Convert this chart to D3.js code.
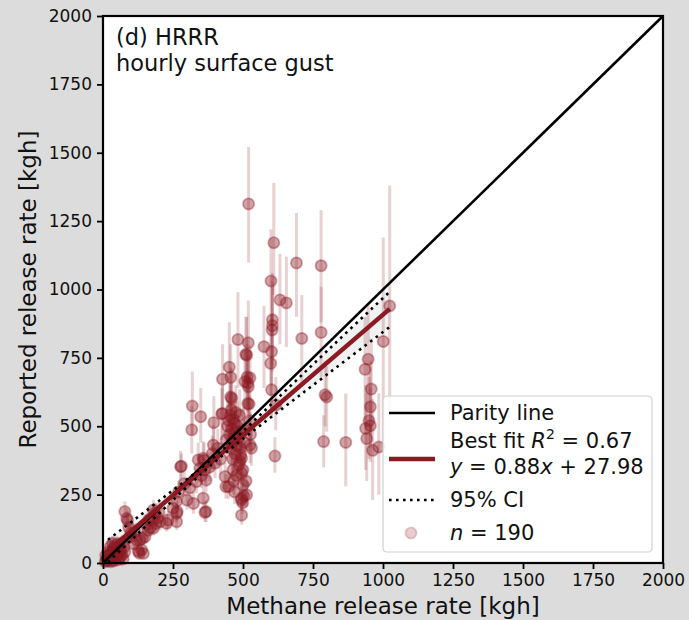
<!DOCTYPE html>
<html>
<head>
<meta charset="utf-8">
<script src="https://cdn.jsdelivr.net/npm/d3@7"></script>
<style>
  body { margin: 0; background: #dcdcdc; }
  svg { display: block; font-family: "DejaVu Sans", sans-serif; }
</style>
</head>
<body>
<div id="chart"></div>
<script>
// points: methane rate, reported rate, error bar ends
const methane = [
  8, 12, 15, 18, 20, 22, 25, 28, 30, 32, 35, 36, 38, 40, 42, 44, 46, 48, 50, 52,
  54, 56, 58, 60, 62, 65, 68, 70, 72, 75, 78, 18, 26, 10, 34,
  78, 85, 88, 92, 96, 100, 114, 120, 126, 130, 132, 138, 144, 150, 155, 160, 165, 170, 178,
  180, 180, 186, 190, 195, 200, 204, 110, 140,
  227, 233, 250, 263, 263, 265, 262, 277, 270, 280, 290, 300, 310, 319, 317, 323, 334, 340,
  346, 349, 352, 358, 358, 361, 364, 364, 368, 368, 380, 390, 394, 396, 400, 410, 420, 424,
  427, 427, 436, 439,
  440, 445, 448, 450, 451, 452, 454, 455, 456, 456, 458, 460, 460, 462, 463, 464, 465, 466,
  468, 470, 470, 472, 474, 475, 476, 478, 480, 482, 484, 486, 488, 489, 490, 492, 494, 495,
  495, 495, 495, 497, 499, 500, 501, 501, 503, 505, 507, 510, 511, 513, 513, 515, 517, 517,
  519, 519, 520, 522, 524, 525, 525, 527, 530,
  575, 599, 602, 602, 604, 605, 605, 600, 610, 614, 617, 632, 655, 691, 710,
  779, 779, 788, 793, 799, 867, 936, 938, 942, 947, 950, 955, 955, 958, 963, 985, 1001, 1024
];
const reported = [
  5, 10, 18, 8, 25, 14, 30, 5, 20, 40, 12, 52, 28, 8, 62, 35, 18, 45, 70, 26,
  55, 12, 38, 65, 22, 48, 30, 75, 15, 58, 40, 40, 60, 28, 72,
  188, 163, 155, 130, 96, 110, 114, 84, 43, 36, 84, 48, 35, 95, 140, 120, 160, 130, 157,
  194, 127, 183, 145, 165, 185, 151, 70, 90,
  145, 157, 200, 182, 151, 188, 225, 352, 260, 354, 290, 230, 275, 574, 487, 218, 297, 377,
  346, 535, 320, 237, 383, 376, 340, 185, 188, 303, 350, 400, 431, 513, 365, 420, 380, 545,
  672, 547, 316, 279,
  450, 500, 279, 520, 716, 470, 540, 420, 679, 607, 560, 602, 490, 440, 380, 340, 525, 300,
  460, 510, 260, 400, 550, 480, 320, 430, 500, 817, 460, 360, 540, 372, 420, 395, 230, 383,
  328, 237, 175, 480, 220, 340, 486, 285, 245, 440, 663, 763, 300, 249, 760, 680, 658, 583,
  805, 645, 1313, 581, 520, 431, 677, 470, 420,
  791, 730, 773, 633, 852, 889, 868, 1031, 1171, 391, 578, 962, 951, 1097, 821,
  1087, 843, 444, 615, 607, 441, 708, 492, 455, 745, 520, 571, 502, 636, 412, 424, 810, 940
];
const errLow = [
  0, 2, 5, 0, 10, 3, 12, 0, 6, 20, 2, 30, 10, 0, 38, 15, 4, 22, 45, 8,
  30, 2, 16, 40, 6, 24, 10, 48, 3, 32, 18, 20, 36, 10, 45,
  150, 130, 125, 100, 70, 80, 85, 60, 25, 20, 62, 28, 18, 70, 110, 92, 130, 100, 125,
  160, 100, 150, 115, 132, 150, 120, 48, 65,
  115, 125, 165, 148, 120, 155, 185, 300, 220, 310, 245, 195, 235, 470, 400, 180, 255, 320,
  295, 440, 275, 200, 325, 320, 290, 150, 150, 260, 300, 340, 365, 425, 310, 355, 325, 450,
  560, 460, 270, 235,
  380, 420, 235, 440, 560, 400, 455, 355, 570, 510, 470, 505, 415, 370, 320, 285, 440, 250,
  390, 430, 215, 340, 460, 405, 270, 365, 420, 640, 390, 300, 455, 315, 355, 335, 190, 325,
  275, 195, 140, 405, 180, 285, 410, 240, 205, 370, 555, 640, 250, 205, 620, 570, 550, 490,
  660, 540, 1099, 490, 440, 365, 565, 400, 355,
  640, 610, 650, 530, 700, 740, 720, 860, 980, 330, 485, 800, 790, 900, 660,
  880, 680, 350, 500, 480, 280, 520, 340, 300, 560, 380, 420, 370, 470, 230, 250, 420, 540
];
const errHigh = [
  15, 22, 32, 20, 40, 28, 48, 16, 36, 60, 26, 75, 48, 20, 88, 58, 34, 70, 98, 46,
  82, 26, 62, 92, 40, 74, 52, 104, 30, 86, 64, 62, 88, 48, 100,
  225, 200, 190, 165, 125, 145, 145, 110, 62, 55, 110, 70, 55, 125, 175, 150, 192, 165, 190,
  230, 158, 220, 178, 200, 222, 185, 95, 118,
  180, 190, 240, 218, 185, 225, 265, 410, 300, 400, 335, 270, 320, 700, 575, 260, 345, 440,
  400, 640, 370, 280, 445, 440, 395, 225, 230, 350, 405, 465, 505, 610, 425, 490, 440, 640,
  800, 650, 365, 325,
  530, 590, 325, 610, 880, 550, 630, 490, 800, 715, 660, 710, 575, 515, 445, 400, 620, 355,
  540, 600, 305, 465, 650, 565, 375, 505, 590, 990, 540, 420, 635, 435, 490, 460, 275, 445,
  385, 280, 215, 565, 262, 400, 570, 335, 290, 520, 780, 900, 355, 295, 900, 800, 775, 685,
  960, 760, 1521, 685, 610, 505, 795, 550, 495,
  940, 860, 910, 745, 1010, 1060, 1030, 1220, 1390, 460, 680, 1130, 1120, 1280, 980,
  1290, 1010, 540, 740, 720, 620, 900, 650, 620, 940, 680, 740, 640, 820, 600, 620, 1190, 1380
];

// fit from the legend, confidence band read at a few x positions
const fitSlope = 0.88;
const fitIntercept = 27.98;
const ciX = [18, 200, 400, 600, 800, 1024];
const ciUpper = [85, 227, 390, 579, 775, 992];
const ciLower = [3, 181, 370, 533, 689, 863];

const axisTicks = [0, 250, 500, 750, 1000, 1250, 1500, 1750, 2000];
const titleLines = ["(d) HRRR", "hourly surface gust"];

const width = 689, height = 620;
const margin = { top: 16, right: 26, bottom: 57, left: 103 };
const red = "#8b1a22";

const svg = d3.select("#chart").append("svg")
  .attr("width", width)
  .attr("height", height);

svg.append("rect").attr("width", width).attr("height", height).attr("fill", "#dcdcdc");

const x = d3.scaleLinear().domain([0, 2000]).range([margin.left, width - margin.right]);
const y = d3.scaleLinear().domain([0, 2000]).range([height - margin.bottom, margin.top]);

svg.append("rect")
  .attr("x", x(0)).attr("y", y(2000))
  .attr("width", x(2000) - x(0)).attr("height", y(0) - y(2000))
  .attr("fill", "white");

const plot = svg.append("g");

// confidence band fill
const band = ciX.map((d, i) => ({ x: d, lo: ciLower[i], hi: ciUpper[i] }));
plot.append("path")
  .datum(band)
  .attr("fill", "#e9eded")
  .attr("opacity", 0.7)
  .attr("d", d3.area().curve(d3.curveNatural)
    .x(d => x(d.x)).y0(d => y(d.lo)).y1(d => y(d.hi)));

const pts = methane.map((d, i) => ({ x: d, y: reported[i], lo: errLow[i], hi: errHigh[i] }));

// error bars
plot.append("g").selectAll("line")
  .data(pts)
  .enter()
  .append("line")
    .attr("x1", d => x(d.x)).attr("x2", d => x(d.x))
    .attr("y1", d => y(d.lo)).attr("y2", d => y(d.hi))
    .attr("stroke", red)
    .attr("stroke-opacity", 0.2)
    .attr("stroke-width", 3);

// markers
plot.append("g").selectAll("circle")
  .data(pts)
  .enter()
  .append("circle")
    .attr("cx", d => x(d.x))
    .attr("cy", d => y(d.y))
    .attr("r", 5.6)
    .attr("fill", red)
    .attr("fill-opacity", 0.4)
    .attr("stroke", red)
    .attr("stroke-opacity", 0.38)
    .attr("stroke-width", 1.8);

// parity line
plot.append("line")
  .attr("x1", x(0)).attr("y1", y(0))
  .attr("x2", x(2000)).attr("y2", y(2000))
  .attr("stroke", "black").attr("stroke-width", 2.6);

// best fit over data range
const xr = d3.extent(methane);
plot.append("line")
  .attr("x1", x(xr[0])).attr("y1", y(fitSlope * xr[0] + fitIntercept))
  .attr("x2", x(xr[1])).attr("y2", y(fitSlope * xr[1] + fitIntercept))
  .attr("stroke", red).attr("stroke-width", 4.5);

// CI dotted lines
[ciUpper, ciLower].forEach(arr => {
  plot.append("path")
    .datum(ciX.map((d, i) => [d, arr[i]]))
    .attr("fill", "none")
    .attr("stroke", "black")
    .attr("stroke-width", 2.6)
    .attr("stroke-dasharray", "2.6,4.4")
    .attr("d", d3.line().curve(d3.curveNatural).x(d => x(d[0])).y(d => y(d[1])));
});

// axes
const xAxis = svg.append("g")
  .attr("transform", `translate(0,${y(0)})`)
  .call(d3.axisBottom(x).tickValues(axisTicks).tickSize(6).tickPadding(5).tickFormat(d3.format("d")));
const yAxis = svg.append("g")
  .attr("transform", `translate(${x(0)},0)`)
  .call(d3.axisLeft(y).tickValues(axisTicks).tickSize(6).tickPadding(5).tickFormat(d3.format("d")));
[xAxis, yAxis].forEach(a => {
  a.select(".domain").remove();
  a.selectAll(".tick line").attr("stroke-width", 1.8);
  a.selectAll(".tick text").attr("font-size", 17).attr("fill", "#111").attr("font-family", "DejaVu Sans");
});

// frame
svg.append("rect")
  .attr("x", x(0)).attr("y", y(2000))
  .attr("width", x(2000) - x(0)).attr("height", y(0) - y(2000))
  .attr("fill", "none").attr("stroke", "black").attr("stroke-width", 2.2);

// axis labels
svg.append("text")
  .attr("x", (x(0) + x(2000)) / 2).attr("y", 614)
  .attr("text-anchor", "middle").attr("font-size", 23).attr("fill", "#111")
  .text("Methane release rate [kgh]");
svg.append("text")
  .attr("transform", `translate(36,${(y(0) + y(2000)) / 2}) rotate(-90)`)
  .attr("text-anchor", "middle").attr("font-size", 23).attr("fill", "#111")
  .text("Reported release rate [kgh]");

// panel title
svg.append("g").selectAll("text")
  .data(titleLines)
  .enter()
  .append("text")
    .attr("x", 116).attr("y", (d, i) => 45 + i * 26)
    .attr("font-size", 22.5).attr("fill", "#111")
    .text(d => d);

// legend
const lg = svg.append("g").attr("transform", "translate(383,396)");
lg.append("rect")
  .attr("width", 269).attr("height", 156).attr("rx", 4)
  .attr("fill", "white").attr("fill-opacity", 0.85)
  .attr("stroke", "#d0d0d0").attr("stroke-width", 1.2);
lg.append("line").attr("x1", 6).attr("x2", 52).attr("y1", 17).attr("y2", 17)
  .attr("stroke", "black").attr("stroke-width", 2.6);
lg.append("line").attr("x1", 6).attr("x2", 52).attr("y1", 63).attr("y2", 63)
  .attr("stroke", red).attr("stroke-width", 4.5);
lg.append("line").attr("x1", 6).attr("x2", 52).attr("y1", 104).attr("y2", 104)
  .attr("stroke", "black").attr("stroke-width", 2.6).attr("stroke-dasharray", "2.6,4.4");
lg.append("circle").attr("cx", 28).attr("cy", 137).attr("r", 5.6)
  .attr("fill", red).attr("fill-opacity", 0.22)
  .attr("stroke", red).attr("stroke-opacity", 0.2).attr("stroke-width", 1.8);

const tx = 67;
const lt = lg.append("g").attr("font-size", 21).attr("fill", "#111");
lt.append("text").attr("x", tx).attr("y", 24).text("Parity line");
const t2 = lt.append("text").attr("x", tx).attr("y", 52);
t2.append("tspan").text("Best fit ");
t2.append("tspan").attr("font-style", "italic").text("R");
t2.append("tspan").attr("font-size", 14).attr("dy", -9).text("2");
t2.append("tspan").attr("dy", 9).text(" = 0.67");
const t3 = lt.append("text").attr("x", tx).attr("y", 78);
t3.append("tspan").attr("font-style", "italic").text("y");
t3.append("tspan").text(" = 0.88");
t3.append("tspan").attr("font-style", "italic").text("x");
t3.append("tspan").text(" + 27.98");
lt.append("text").attr("x", tx).attr("y", 111).text("95% CI");
const t5 = lt.append("text").attr("x", tx).attr("y", 144);
t5.append("tspan").attr("font-style", "italic").text("n");
t5.append("tspan").text(" = 190");
</script>
</body>
</html>
